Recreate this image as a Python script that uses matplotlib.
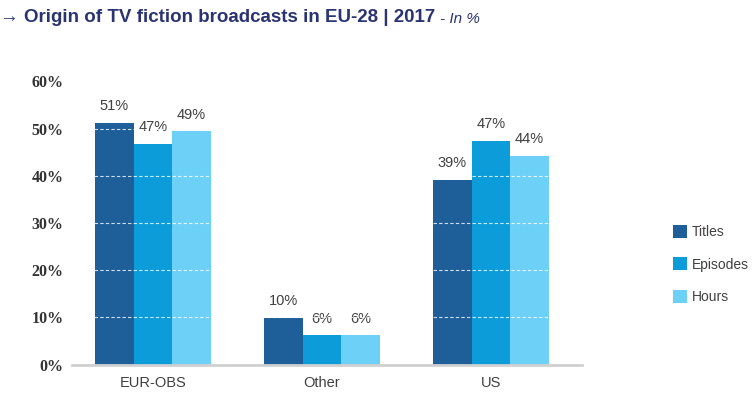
import matplotlib
matplotlib.use("Agg")
import matplotlib.pyplot as plt
import numpy as np

# Data (share of EU-28 TV fiction broadcasts, %)
categories = ["EUR-OBS", "Other", "US"]
series_names = ["Titles", "Episodes", "Hours"]
titles = [51.2, 9.9, 39.1]
episodes = [46.7, 6.2, 47.4]
hours = [49.4, 6.2, 44.2]
y_ticks = [0, 10, 20, 30, 40, 50, 60]

colors = ["#1f5f99", "#0b9cd9", "#6dd0f6"]
label_color = "#404040"

fig = plt.figure(figsize=(7.52, 3.96), dpi=100)
ax = fig.add_axes([0.0957, 0.0795, 0.678, 0.715])

x = np.arange(len(categories))
width = 0.228
all_series = [titles, episodes, hours]

for i, (name, vals) in enumerate(zip(series_names, all_series)):
    pos = x + (i - 1) * width
    bars = ax.bar(pos, vals, width, color=colors[i], label=name, zorder=2)
    for b, v in zip(bars, vals):
        ax.annotate(f"{round(v):.0f}%", (b.get_x() + b.get_width() / 2, v),
                    xytext=(0, 7), textcoords="offset points",
                    ha="center", va="bottom", fontsize=10.5,
                    color=label_color, family="Liberation Sans")

# white dashed gridlines only show over the bars
for t in y_ticks[1:]:
    ax.axhline(t, color="white", linestyle=(0, (3, 2)), linewidth=0.8,
               alpha=0.8, zorder=3)

ax.set_ylim(0, 60)
ax.set_xlim(-0.479, 2.538)
ax.set_yticks(y_ticks)
ax.set_yticklabels([f"{t}%" for t in y_ticks], family="Liberation Serif",
                   fontweight="bold", fontsize=11.5, color="#333333")
ax.set_xticks(x)
ax.set_xticklabels(categories, family="Liberation Sans", fontsize=10.5,
                   color=label_color)
ax.tick_params(axis="both", length=0)
ax.tick_params(axis="y", pad=6)
ax.tick_params(axis="x", pad=8)

for side in ["top", "right", "left"]:
    ax.spines[side].set_visible(False)
ax.spines["bottom"].set_color("#d0d0d0")
ax.spines["bottom"].set_linewidth(2)
ax.spines["bottom"].set_zorder(4)

leg = fig.legend(loc="center left", bbox_to_anchor=(0.887, 0.332),
                 frameon=False, handlelength=1.05, handleheight=1.05,
                 handletextpad=0.35, labelspacing=1.3, borderaxespad=0,
                 prop={"family": "Liberation Sans", "size": 10})
for txt in leg.get_texts():
    txt.set_color(label_color)

# Title
t1 = fig.text(0.0, 0.955, "\u2192 Origin of TV fiction broadcasts in EU-28 | 2017",
              family=["Liberation Sans", "DejaVu Sans"], fontweight="bold",
              fontsize=13.5, color="#2b3473", va="center", ha="left")
fig.canvas.draw()
bb = t1.get_window_extent()
fig.text((bb.x1 + 5) / fig.bbox.width, 0.952, "- In %",
         family=["Liberation Sans", "DejaVu Sans"], style="italic",
         fontsize=11, color="#2b3473", va="center", ha="left")

fig.savefig("out.png", dpi=100)
